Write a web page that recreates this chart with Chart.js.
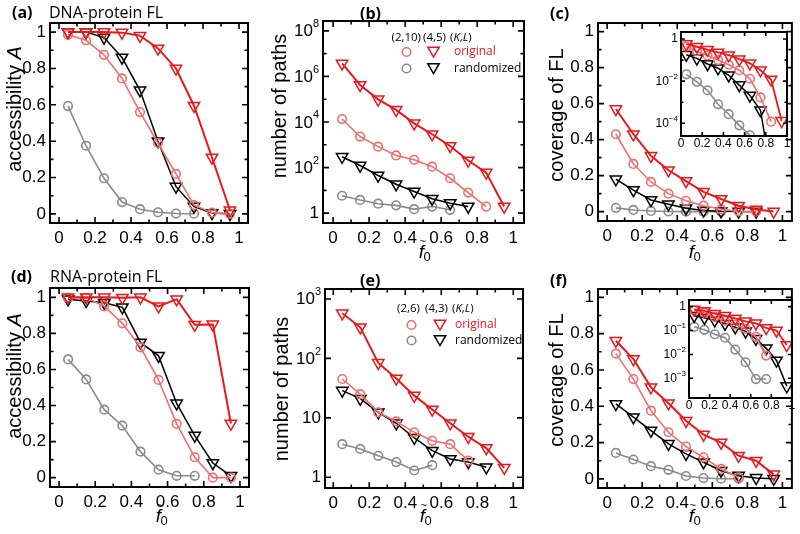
<!DOCTYPE html>
<html><head><meta charset="utf-8">
<title>Accessibility, number of paths and coverage of fitness landscapes</title>
<script src="https://cdn.jsdelivr.net/npm/chart.js@4.4.1/dist/chart.umd.min.js"></script>
<style>
html,body{margin:0;padding:0;background:#fff;}
#wrap{position:relative;width:800px;height:534px;overflow:hidden;background:#fff;}
#wrap canvas{position:absolute;left:0;top:0;}
</style></head>
<body><div id="wrap"></div>
<script>
// ---------- data ----------
const f0 = [0.05,0.15,0.25,0.35,0.45,0.55,0.65,0.75,0.85,0.95];

// (a) DNA-protein FL, accessibility A
const aOrig45  = [1.0,1.0,1.0,0.997,0.98,0.91,0.80,0.595,0.31,0.02];
const aOrig210 = [0.985,0.955,0.875,0.745,0.56,0.39,0.22,0.048,0.007,0.0];
const aRand45  = [1.0,1.0,0.97,0.86,0.68,0.40,0.15,0.04,0.005,0.0];
const aRand210 = [0.593,0.375,0.196,0.065,0.026,0.009,0.002,0.001];

// (b) DNA-protein FL, number of paths
const bOrig45  = [3.7e6,4.2e5,9.8e4,3.4e4,8.7e3,2.9e3,890,204,60,1.95];
const bOrig210 = [1.35e4,2.3e3,830,340,220,110,34,8.0,1.95];
const bRand45  = [300,123,45,18.6,8.9,4.3,2.75,1.95];
const bRand210 = [5.8,3.8,2.6,2.2,1.5,1.95,1.4];

// (c) DNA-protein FL, coverage of FL (main + log inset)
const cOrig45  = [0.57,0.43,0.31,0.23,0.17,0.11,0.07,0.033,0.012,1.3e-4];
const cOrig210 = [0.43,0.265,0.165,0.10,0.06,0.033,0.013,0.0017,1.2e-4];
const cRand45  = [0.18,0.12,0.065,0.041,0.019,0.0065,0.0021,4.2e-4,4e-7];
const cRand210 = [0.021,0.0093,0.0037,8e-4,2.7e-4,8e-5,2.7e-5];

// (d) RNA-protein FL, accessibility A
const dOrig45  = [1.0,1.0,1.0,0.998,1.0,0.95,0.99,0.848,0.85,0.30];
const dOrig26  = [0.998,0.998,0.95,0.856,0.723,0.542,0.298,0.113,0.0,0.0];
const dRand43  = [0.99,0.98,0.97,0.945,0.75,0.676,0.412,0.233,0.081,0.01];
const dRand26  = [0.656,0.545,0.377,0.288,0.144,0.044,0.01,0.01];

// (e) RNA-protein FL, number of paths
const eOrig43  = [575,333,84,46,23.6,13.8,8.1,4.8,3.1,1.44];
const eOrig26  = [45,25,12.4,8.7,5.7,4.1,3.6,1.9];
const eRand43  = [28.7,21,12.4,8.1,4.6,2.8,2.03,1.8,1.47];
const eRand26  = [3.6,3.0,2.3,1.8,1.3,1.6];

// (f) RNA-protein FL, coverage of FL (main + log inset)
const fOrig43  = [0.761,0.66,0.505,0.417,0.32,0.244,0.20,0.128,0.10,0.025];
const fOrig26  = [0.69,0.55,0.376,0.257,0.178,0.119,0.055,0.009];
const fRand43  = [0.413,0.34,0.266,0.193,0.138,0.092,0.045,0.018,0.0056,4.7e-4];
const fRand26  = [0.143,0.107,0.07,0.05,0.016,0.0047,9.3e-4,9.3e-4];

// ticks
const xMajor = [0,0.2,0.4,0.6,0.8,1];
const xLabels = ['0','0.2','0.4','0.6','0.8','1'];
const xMinor = [0.1,0.3,0.5,0.7,0.9];
const yLinMajor = [0,0.2,0.4,0.6,0.8,1];
const yLinLabels = ['0','0.2','0.4','0.6','0.8','1'];
const yLinMinor = [0.1,0.3,0.5,0.7,0.9];
const bYMajor = [1,1e2,1e4,1e6,1e8];
const bYLabels = ['1','10^2','10^4','10^6','10^8'];
const bYMinor = [10,1e3,1e5,1e7];
const eYMajor = [1,10,100,1000];
const eYLabels = ['1','10','10^2','10^3'];
const cInYMajor = [1,1e-2,1e-4];
const cInYLabels = ['1','10^-2','10^-4'];
const cInYMinor = [1e-1,1e-3];
const fInYMajor = [1,1e-1,1e-2,1e-3];
const fInYLabels = ['1','10^-1','10^-2','10^-3'];

// ---------- style ----------
const RED = 'rgb(232,24,28)', PINK = 'rgb(240,110,110)', GRAY = 'rgb(138,138,138)', BLACK = '#000';
const TF = '"Liberation Sans", Arial, sans-serif';
const SF = '"Open Sans", "Liberation Sans", sans-serif';
const TRI_R = 6.6;
const wrap = document.getElementById('wrap');

function ser(values, color, marker, lw) {
  const tri = marker === 'tri';
  return {
    data: values.map((v, i) => ({x: f0[i], y: v})),
    borderColor: color, borderWidth: lw, tension: 0, fill: false,
    pointStyle: tri ? 'triangle' : 'circle',
    pointRotation: tri ? 180 : 0,
    pointRadius: tri ? TRI_R : 4.3,
    pointBorderColor: color, pointBackgroundColor: 'rgba(0,0,0,0)', pointBorderWidth: tri ? 1.5 : 1.6
  };
}

function supText(ctx, label, x, y, size, align) {
  ctx.textBaseline = 'middle';
  const parts = label.split('^');
  if (parts.length === 1) { ctx.font = size + 'px ' + TF; ctx.textAlign = align; ctx.fillText(label, x, y); return; }
  const base = parts[0], exp = parts[1].replace('-', '\u2212');
  const es = Math.round(size * 0.66);
  ctx.font = size + 'px ' + TF; const wb = ctx.measureText(base).width;
  ctx.font = es + 'px ' + TF; const we = ctx.measureText(exp).width;
  const x0 = align === 'right' ? x - wb - we : align === 'center' ? x - (wb + we) / 2 : x;
  ctx.textAlign = 'left';
  ctx.font = size + 'px ' + TF; ctx.fillText(base, x0, y + size * 0.05);
  ctx.font = es + 'px ' + TF; ctx.fillText(exp, x0 + wb, y - size * 0.4);
}

function rotTitle(ctx, parts, cx, cy, size) {
  ctx.save(); ctx.translate(cx, cy); ctx.rotate(-Math.PI / 2);
  const ws = parts.map(p => { ctx.font = (p.it ? 'italic ' : '') + size + 'px ' + TF; return ctx.measureText(p.t).width; });
  let x = -ws.reduce((s, w) => s + w, 0) / 2;
  ctx.textBaseline = 'middle'; ctx.textAlign = 'left'; ctx.fillStyle = '#000';
  parts.forEach((p, i) => { ctx.font = (p.it ? 'italic ' : '') + size + 'px ' + TF; ctx.fillText(p.t, x, 0); x += ws[i]; });
  ctx.restore();
}

function f0Title(ctx, cx, base) {
  ctx.fillStyle = '#000';
  ctx.font = 'italic 19px ' + TF; const wf = ctx.measureText('f').width;
  ctx.font = '13px ' + TF; const w0 = ctx.measureText('0').width;
  const x0 = cx - (wf + w0) / 2;
  ctx.textAlign = 'left'; ctx.textBaseline = 'alphabetic';
  ctx.font = 'italic 19px ' + TF; ctx.fillText('f', x0, base);
  ctx.font = '13px ' + TF; ctx.fillText('0', x0 + wf - 0.5, base + 3);
  ctx.font = '11px ' + TF; ctx.textAlign = 'center'; ctx.textBaseline = 'middle';
  ctx.fillText('~', x0 + wf * 0.75, base - 16.5);
}

function tagText(ctx, tag, name, x, y, nx) {
  ctx.fillStyle = '#000'; ctx.textBaseline = 'middle'; ctx.textAlign = 'left';
  ctx.font = 'bold 16px ' + SF; ctx.fillText(tag, x, y);
  if (name) { ctx.font = '16px ' + SF; ctx.fillText(name, nx, y); }
}

function triPath(ctx, x, y, r) {
  ctx.beginPath();
  ctx.moveTo(x - r * 0.866, y - r / 2); ctx.lineTo(x + r * 0.866, y - r / 2); ctx.lineTo(x, y + r); ctx.closePath();
}

function legend(ctx, L) {
  ctx.textBaseline = 'middle'; ctx.fillStyle = '#000'; ctx.textAlign = 'left';
  ctx.font = '11.5px ' + SF;
  ctx.fillText(L.h1, L.h1x, L.hy); ctx.fillText(L.h2, L.h2x, L.hy);
  let x = L.kx;
  [['(', 0], ['K', 1], [',', 0], ['L', 1], [')', 0]].forEach(([t, it]) => {
    ctx.font = (it ? 'italic ' : '') + '11.5px ' + SF; ctx.fillText(t, x, L.hy); x += ctx.measureText(t).width;
  });
  const rows = [{y: L.r1, c1: PINK, c2: RED, t: 'original', tc: RED}, {y: L.r2, c1: GRAY, c2: BLACK, t: 'randomized', tc: BLACK}];
  rows.forEach(r => {
    ctx.strokeStyle = r.c1; ctx.lineWidth = 1.6;
    ctx.beginPath(); ctx.arc(L.cx, r.y, 4.3, 0, Math.PI * 2); ctx.stroke();
    ctx.strokeStyle = r.c2; ctx.lineWidth = 1.5;
    triPath(ctx, L.tx, r.y - 1.5, TRI_R); ctx.stroke();
    ctx.fillStyle = r.tc; ctx.font = '12px ' + SF; ctx.textAlign = 'left';
    ctx.fillText(r.t, L.lx, r.y);
  });
}

function framePlugin(p) {
  return {
    id: 'frame',
    beforeDatasetsDraw(chart) {
      if (!p.white) return;
      const a = chart.chartArea, ctx = chart.ctx;
      ctx.save(); ctx.fillStyle = '#fff';
      ctx.fillRect(a.left, a.top, a.right - a.left, a.bottom - a.top); ctx.restore();
    },
    afterDraw(chart) {
      const ctx = chart.ctx, a = chart.chartArea, xs = chart.scales.x, ys = chart.scales.y;
      ctx.save();
      ctx.strokeStyle = '#000'; ctx.fillStyle = '#000';
      ctx.lineWidth = 2;
      ctx.strokeRect(a.left, a.top, a.right - a.left, a.bottom - a.top);
      ctx.lineWidth = 1.6;
      const xt = (vals, len) => vals.forEach(v => {
        const X = xs.getPixelForValue(v);
        ctx.beginPath(); ctx.moveTo(X, a.bottom); ctx.lineTo(X, a.bottom - len);
        ctx.moveTo(X, a.top); ctx.lineTo(X, a.top + len); ctx.stroke();
      });
      const yt = (vals, len) => vals.forEach(v => {
        const Y = ys.getPixelForValue(v);
        ctx.beginPath(); ctx.moveTo(a.left, Y); ctx.lineTo(a.left + len, Y);
        ctx.moveTo(a.right, Y); ctx.lineTo(a.right - len, Y); ctx.stroke();
      });
      xt(p.xMajor, p.maj); xt(p.xMinor || [], p.min);
      yt(p.yMajor, p.maj); yt(p.yMinor || [], p.min);
      p.xMajor.forEach((v, i) => supText(ctx, p.xLabels[i], xs.getPixelForValue(v), a.bottom + p.xOff, p.fs, 'center'));
      p.yMajor.forEach((v, i) => supText(ctx, p.yLabels[i], a.left - p.yOff, ys.getPixelForValue(v), p.fs, 'right'));
      if (p.extra) p.extra(ctx);
      ctx.restore();
    }
  };
}

function panel(box, xr, yr, ylog, datasets, p, inset) {
  const c = document.createElement('canvas');
  c.width = 800; c.height = 534; c.style.width = '800px'; c.style.height = '534px';
  wrap.appendChild(c);
  if (inset) datasets.forEach(d => { d.clip = 0; });
  return new Chart(c, {
    type: 'line',
    data: {datasets},
    options: {
      responsive: false, animation: false, events: [], devicePixelRatio: 1,
      layout: {padding: {left: box[0], top: box[1], right: 800 - box[2], bottom: 534 - box[3]}},
      scales: {
        x: {type: 'linear', display: false, min: xr[0], max: xr[1]},
        y: {type: ylog ? 'logarithmic' : 'linear', display: false, min: yr[0], max: yr[1]}
      },
      plugins: {legend: {display: false}, tooltip: {enabled: false}, title: {display: false}}
    },
    plugins: [framePlugin(p)]
  });
}

const mainP = {xMajor, xLabels, xMinor, maj: 6, min: 3.5, xOff: 15, yOff: 4, fs: 17};
const linY = {yMajor: yLinMajor, yLabels: yLinLabels, yMinor: yLinMinor};
const inP = {xMajor, xLabels, maj: 4, min: 2.5, xOff: 8, yOff: 3, fs: 12, white: true};

// (a)
panel([50, 23, 248, 223], [-0.05, 1.05], [-0.05, 1.05], false, [
  ser(aOrig45, RED, 'tri', 2), ser(aOrig210, PINK, 'circ', 1.6), ser(aRand45, BLACK, 'tri', 1.5), ser(aRand210, GRAY, 'circ', 1.6)
], Object.assign({}, mainP, linY, {extra: ctx => {
  tagText(ctx, '(a)', 'DNA-protein FL', 12, 13, 49);
  rotTitle(ctx, [{t: 'accessibility '}, {t: 'A', it: true}], 15, 109, 20);
}}));

// (b)
panel([323, 21, 524, 223], [-0.056, 1.06], [0.37, 2.7e8], true, [
  ser(bOrig45, RED, 'tri', 2), ser(bOrig210, PINK, 'circ', 1.6), ser(bRand45, BLACK, 'tri', 1.5), ser(bRand210, GRAY, 'circ', 1.6)
], Object.assign({}, mainP, {yMajor: bYMajor, yLabels: bYLabels, yMinor: bYMinor, extra: ctx => {
  tagText(ctx, '(b)', null, 360, 14);
  rotTitle(ctx, [{t: 'number of paths'}], 280, 106, 20);
  f0Title(ctx, 425, 258);
  legend(ctx, {h1: '(2,10)', h2: '(4,5)', h1x: 391.5, h2x: 423, kx: 450, cx: 406.5, tx: 433.5, hy: 38, r1: 52, r2: 68.5, lx: 454});
}}));

// (c)
panel([598, 23, 797, 221], [-0.052, 1.054], [-0.052, 1.048], false, [
  ser(cOrig45, RED, 'tri', 2), ser(cOrig210, PINK, 'circ', 1.6), ser(cRand45, BLACK, 'tri', 1.5), ser(cRand210, GRAY, 'circ', 1.6)
], Object.assign({}, mainP, linY, {extra: ctx => {
  tagText(ctx, '(c)', null, 550, 14);
  rotTitle(ctx, [{t: 'coverage of FL'}], 557, 115, 20);
  f0Title(ctx, 695, 258);
}}));
// (c) inset
panel([681, 32, 787, 136], [0, 1], [2.5e-5, 2.15], true, [
  ser(cOrig45, RED, 'tri', 1.8), ser(cOrig210, PINK, 'circ', 1.6), ser(cRand45, BLACK, 'tri', 1.5), ser(cRand210, GRAY, 'circ', 1.6)
], Object.assign({}, inP, {yMajor: cInYMajor, yLabels: cInYLabels, yMinor: cInYMinor}), true);

// (d)
panel([50, 288, 249, 487], [-0.05, 1.05], [-0.052, 1.052], false, [
  ser(dOrig45, RED, 'tri', 2), ser(dOrig26, PINK, 'circ', 1.6), ser(dRand43, BLACK, 'tri', 1.5), ser(dRand26, GRAY, 'circ', 1.6)
], Object.assign({}, mainP, linY, {extra: ctx => {
  tagText(ctx, '(d)', 'RNA-protein FL', 11, 277, 50);
  rotTitle(ctx, [{t: 'accessibility '}, {t: 'A', it: true}], 15, 376, 20);
  f0Title(ctx, 162, 522);
}}));

// (e)
panel([325, 289, 523, 488], [-0.046, 1.054], [0.66, 1470], true, [
  ser(eOrig43, RED, 'tri', 2), ser(eOrig26, PINK, 'circ', 1.6), ser(eRand43, BLACK, 'tri', 1.5), ser(eRand26, GRAY, 'circ', 1.6)
], Object.assign({}, mainP, {yMajor: eYMajor, yLabels: eYLabels, yMinor: [], extra: ctx => {
  tagText(ctx, '(e)', null, 360, 281);
  rotTitle(ctx, [{t: 'number of paths'}], 282, 389, 20);
  f0Title(ctx, 426, 522);
  legend(ctx, {h1: '(2,6)', h2: '(4,3)', h1x: 397, h2x: 425, kx: 452, cx: 411.5, tx: 440, hy: 309, r1: 325, r2: 340.5, lx: 455});
}}));

// (f)
panel([598, 289, 797, 488], [-0.052, 1.054], [-0.05, 1.046], false, [
  ser(fOrig43, RED, 'tri', 2), ser(fOrig26, PINK, 'circ', 1.6), ser(fRand43, BLACK, 'tri', 1.5), ser(fRand26, GRAY, 'circ', 1.6)
], Object.assign({}, mainP, linY, {extra: ctx => {
  tagText(ctx, '(f)', null, 550, 281);
  rotTitle(ctx, [{t: 'coverage of FL'}], 557, 380, 20);
  f0Title(ctx, 695, 522);
}}));
// (f) inset
panel([689, 300, 792, 398], [0, 1], [1.5e-4, 1.9], true, [
  ser(fOrig43, RED, 'tri', 1.8), ser(fOrig26, PINK, 'circ', 1.6), ser(fRand43, BLACK, 'tri', 1.5), ser(fRand26, GRAY, 'circ', 1.6)
], Object.assign({}, inP, {yMajor: fInYMajor, yLabels: fInYLabels, yMinor: []}), true);
</script>
</body></html>
